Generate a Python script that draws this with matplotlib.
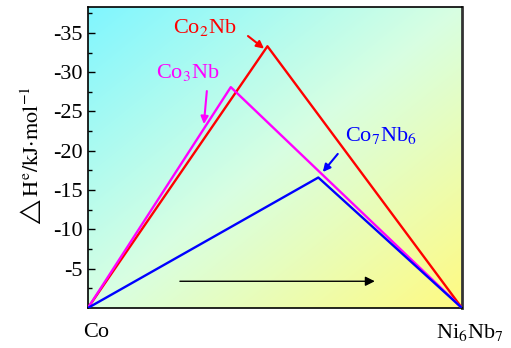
import numpy as np
import matplotlib.pyplot as plt
from matplotlib.colors import LinearSegmentedColormap

plt.rcParams["font.family"] = ["Liberation Serif", "DejaVu Serif"]
plt.rcParams["mathtext.fontset"] = "stix"

# composition axis: 0 = Co, 1 = Ni6Nb7
comp_x = [0.0, 0.48, 1.0]
co2nb_h = [0.0, -33.3, 0.0]
comp_x_co3nb = [0.0, 0.382, 1.0]
co3nb_h = [0.0, -28.1, 0.0]
comp_x_co7nb6 = [0.0, 0.616, 1.0]
co7nb6_h = [0.0, -16.6, 0.0]

y_ticks = [-35, -30, -25, -20, -15, -10, -5]
y_tick_labels = ["-35", "-30", "-25", "-20", "-15", "-10", "-5"]

fig = plt.figure(figsize=(5.11, 3.48), dpi=100)
ax = fig.add_axes([0.172, 0.115, 0.732, 0.865])

# diagonal gradient background (cyan top-left -> yellow bottom-right)
bg_cmap = LinearSegmentedColormap.from_list(
    "bg", ["#80F6FF", "#D8FFE2", "#FFFA82"])
u = np.linspace(0, 1, 200)
U, V = np.meshgrid(u, u)
grad = (U + V) / 2  # row 0 is the top edge
ax.imshow(grad, cmap=bg_cmap, extent=[0, 1, 0, 1], transform=ax.transAxes,
          aspect="auto", origin="upper", zorder=0, interpolation="bilinear",
          vmin=0, vmax=1)

lw = 1.7
ax.plot(comp_x, co2nb_h, color="#FF0000", lw=lw, zorder=3)
ax.plot(comp_x_co3nb, co3nb_h, color="#FF00FF", lw=lw, zorder=3)
ax.plot(comp_x_co7nb6, co7nb6_h, color="#0000FF", lw=lw, zorder=4)

ax.set_xlim(0, 1)
ax.set_ylim(0, -38.3)
ax.set_xticks([])
ax.set_yticks(y_ticks)
ax.set_yticklabels(y_tick_labels, fontsize=16)
ax.set_yticks(np.arange(-37.5, 0, 5), minor=True)
ax.tick_params(axis="y", which="major", direction="in", length=5, width=1, pad=4)
ax.tick_params(axis="y", which="minor", direction="in", length=3, width=1)
for s in ax.spines.values():
    s.set_linewidth(1.2)
ax.spines["right"].set_linewidth(2)
ax.spines["right"].set_color("#333333")

ax.set_ylabel(r"$\mathrm{\triangle H^{e}/kJ{\cdot}mol^{-1}}$", fontsize=16, labelpad=6)

# composition end labels
ax.text(-0.013, -0.083, "Co", transform=ax.get_xaxis_transform(), fontsize=16,
        ha="left", va="center")
ax.text(1.022, -0.083, r"Ni$_6$Nb$_7$", transform=ax.get_xaxis_transform(),
        fontsize=16, ha="center", va="center")

# phase labels with pointing arrows
def label(text, txy, a_from, a_to, color):
    ax.text(txy[0], txy[1], text, color=color, fontsize=16, ha="center",
            va="center", zorder=5)
    ax.annotate("", xy=a_to, xytext=a_from,
                arrowprops=dict(arrowstyle="-|>", color=color, lw=1.5,
                                mutation_scale=11, shrinkA=0, shrinkB=0),
                zorder=5)

label(r"Co$_2$Nb", (0.313, -35.7), (0.428, -34.6), (0.471, -33.0), "#FF0000")
label(r"Co$_3$Nb", (0.267, -30.0), (0.318, -27.6), (0.310, -23.4), "#FF00FF")
label(r"Co$_7$Nb$_6$", (0.783, -22.0), (0.668, -19.6), (0.628, -17.3), "#0000FF")

# direction arrow
ax.annotate("", xy=(0.767, -3.4), xytext=(0.246, -3.4),
            arrowprops=dict(arrowstyle="-|>", color="black", lw=1,
                            mutation_scale=14, shrinkA=0, shrinkB=0),
            zorder=5)

fig.savefig("out.png", dpi=100)
